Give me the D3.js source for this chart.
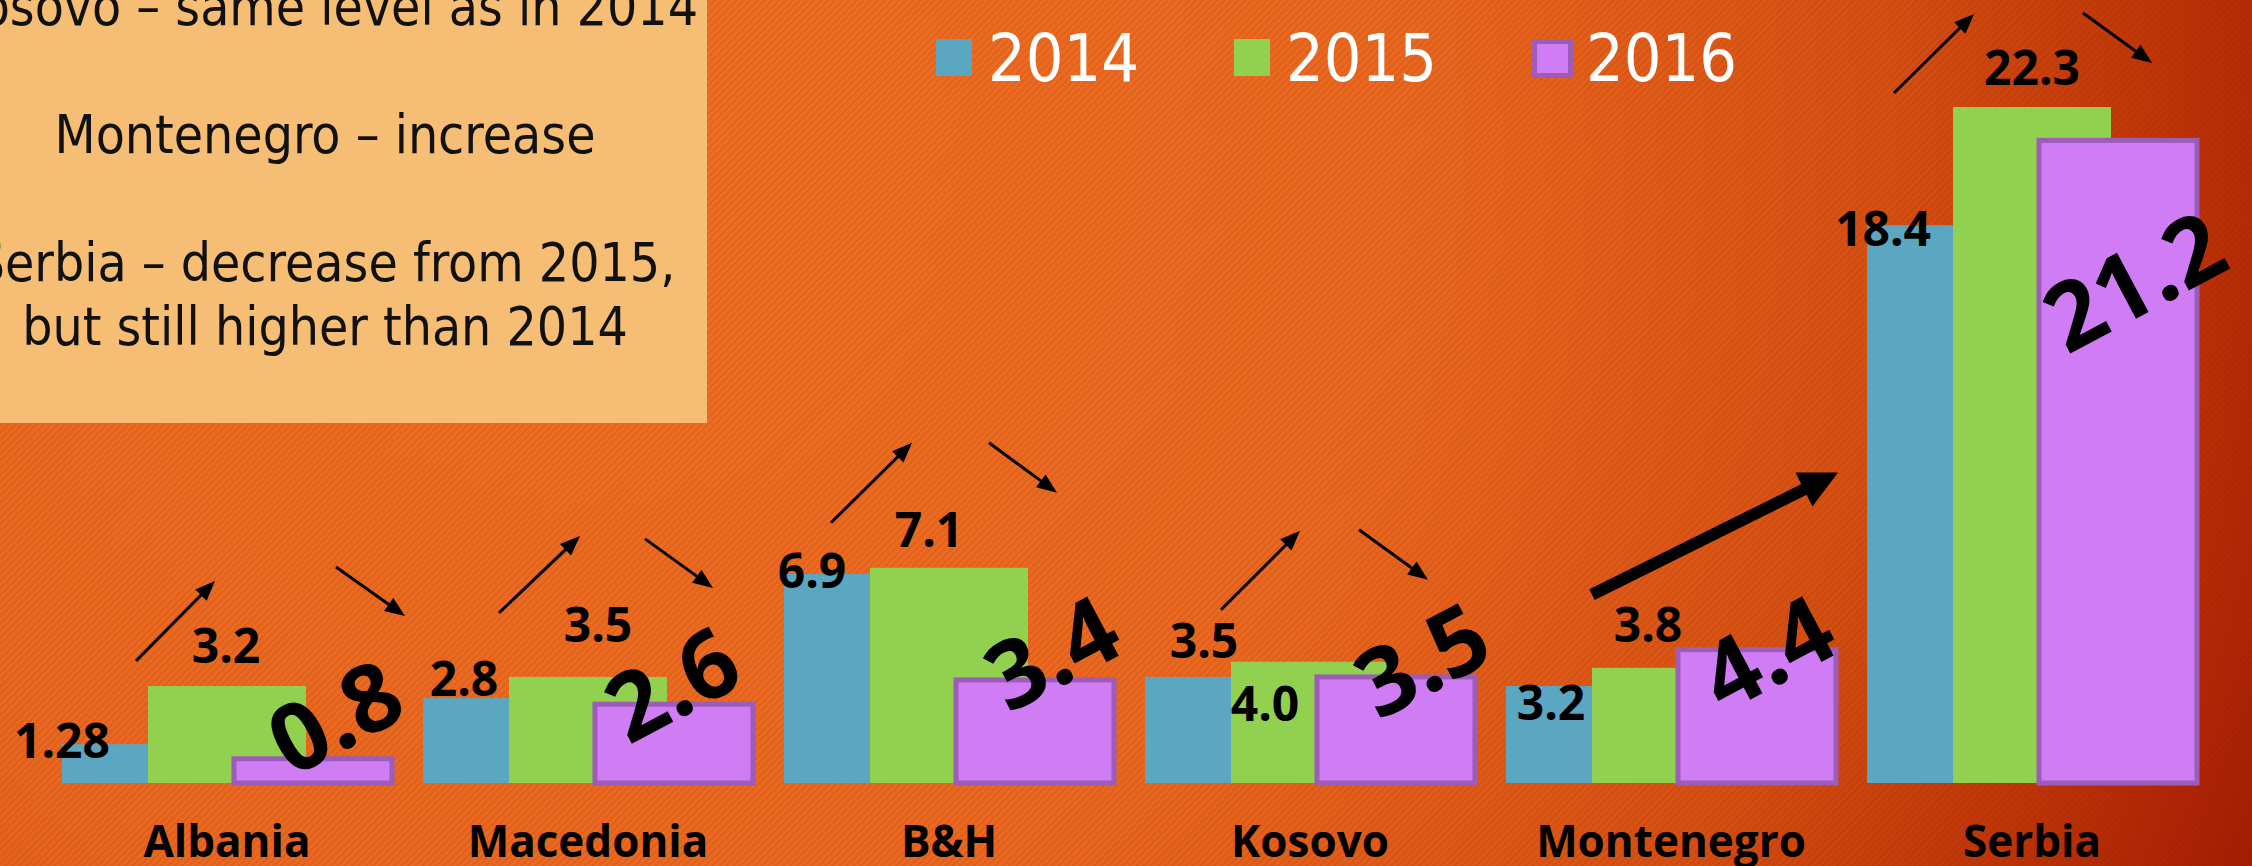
<!DOCTYPE html>
<html>
<head>
<meta charset="utf-8">
<script src="https://cdn.jsdelivr.net/npm/d3@7"></script>
<style>
  body { margin: 0; overflow: hidden; background: #e8641e; }
  svg { display: block; }
</style>
</head>
<body>
<svg id="chart" width="2252" height="866"></svg>
<script>
// données
const countries = ["Albania", "Macedonia", "B&H", "Kosovo", "Montenegro", "Serbia"];
const years = ["2014", "2015", "2016"];
const v2014 = [1.28, 2.8, 6.9, 3.5, 3.2, 18.4];
const v2015 = [3.2, 3.5, 7.1, 4.0, 3.8, 22.3];
const v2016 = [0.8, 2.6, 3.4, 3.5, 4.4, 21.2];
const noteLines = ["Kosovo – same level as in 2014", "", "Montenegro – increase", "", "Serbia – decrease from 2015,", "but still higher than 2014"];

// placement des étiquettes (décalage par rapport au haut de la barre)
const off2014 = [[-79, 14], [-38, -2], [-51, 14], [-20, -19], [-34, 34], [-63, 21]];
const off2015 = [[-1, -23], [10, -35], [-20, -21], [-45, 59], [-23, -26], [0, -22]];
const off2016 = [[22, -42], [-2, -20], [17, -27], [26, -17], [10, 3], [16, 141]];
// flèches : [pays, dx1, dy1, dx2, dy2] par rapport au début du groupe et au haut de la barre 2015
const flechesHaut = [[0, 74, -25, 153, -105], [1, 76, -64, 157, -141], [2, 47, -45, 128, -125], [3, 76, -52, 155, -131], [5, 27, -14, 107, -93]];
const flechesBas = [[0, 274, -119, 343, -70], [1, 222, -138, 290, -89], [2, 205, -125, 273, -75], [3, 214, -132, 283, -82], [5, 216, -94, 285, -44]];

const W = 2252, H = 866;
const series = [v2014, v2015, v2016];
const couleurs = ["#5BA6C0", "#92D050", "#D07CF5"];
const barW = 158;

const svg = d3.select("#chart");
const defs = svg.append("defs");

// fond dégradé
const fond = defs.append("radialGradient")
    .attr("id", "fond")
    .attr("gradientUnits", "userSpaceOnUse")
    .attr("cx", 600).attr("cy", 150).attr("r", 1850);
[[0, "#EF6F23"], [0.45, "#EA671F"], [0.7, "#D64F12"], [0.85, "#BE3407"], [1, "#A01602"]]
    .forEach(s => fond.append("stop").attr("offset", s[0]).attr("stop-color", s[1]));

const rayures = defs.append("pattern")
    .attr("id", "rayures")
    .attr("patternUnits", "userSpaceOnUse")
    .attr("width", 5).attr("height", 5)
    .attr("patternTransform", "rotate(45)");
rayures.append("line")
    .attr("x1", 1).attr("x2", 1).attr("y1", 0).attr("y2", 5)
    .attr("stroke", "rgba(110,20,0,0.13)")
    .attr("stroke-width", 1.6);

svg.append("rect").attr("width", W).attr("height", H).attr("fill", "url(#fond)");
svg.append("rect").attr("width", W).attr("height", H).attr("fill", "url(#rayures)");

// échelles
const x0 = d3.scaleBand().domain(countries).range([62, 2197]).paddingInner(0.086);
const xs = d3.scalePoint().domain(years).range([0, x0.bandwidth() - barW]);
const y = d3.scaleLinear().domain([0, 22.3]).range([783, 107]);

const fmt = v => (Math.round(v * 10) / 10 === v) ? v.toFixed(1) : String(v);

// encadré de texte
svg.append("rect")
    .attr("x", -100).attr("y", -10)
    .attr("width", 807).attr("height", 433)
    .attr("fill", "#F6BE74");

svg.append("g").selectAll("text")
    .data(noteLines)
    .join("text")
    .attr("x", 325)
    .attr("y", (d, i) => 25 + i * 64)
    .attr("text-anchor", "middle")
    .attr("font-family", "'Liberation Sans Narrow', 'DejaVu Sans Condensed', sans-serif")
    .attr("font-size", "53px")
    .attr("fill", "#111")
    .text(d => d);

// barres
years.forEach((yr, s) => {
    svg.append("g")
        .attr("class", "serie-" + yr)
        .selectAll("rect")
        .data(countries)
        .join("rect")
        .attr("x", c => x0(c) + xs(yr))
        .attr("y", (c, i) => y(series[s][i]))
        .attr("width", barW)
        .attr("height", (c, i) => y(0) - y(series[s][i]))
        .attr("fill", couleurs[s])
        .attr("stroke", s === 2 ? "#9C5CB8" : null)
        .attr("stroke-width", s === 2 ? 5 : null);
});

// étiquettes 2014 et 2015
[[v2014, off2014, "2014"], [v2015, off2015, "2015"]].forEach(([vals, offs, yr]) => {
    svg.append("g").selectAll("text")
        .data(countries)
        .join("text")
        .attr("x", (c, i) => x0(c) + xs(yr) + barW / 2 + offs[i][0])
        .attr("y", (c, i) => y(vals[i]) + offs[i][1])
        .attr("text-anchor", "middle")
        .attr("font-family", "'Open Sans', sans-serif")
        .attr("font-weight", "bold")
        .attr("font-size", "48px")
        .attr("fill", "#000")
        .text((c, i) => fmt(vals[i]));
});

// grandes étiquettes 2016, inclinées
svg.append("g").selectAll("text")
    .data(countries)
    .join("text")
    .attr("transform", (c, i) => {
        let cx = x0(c) + xs("2016") + barW / 2 + off2016[i][0];
        let cy = y(v2016[i]) + off2016[i][1];
        return `translate(${cx},${cy}) rotate(-28)`;
    })
    .attr("text-anchor", "middle")
    .attr("dy", "0.36em")
    .attr("font-family", "'Open Sans', sans-serif")
    .attr("font-weight", "bold")
    .attr("font-size", "94px")
    .attr("fill", "#000")
    .text((c, i) => fmt(v2016[i]));

// flèches
function fleche(g, x1, y1, x2, y2, ep, lg, la) {
    let dx = x2 - x1, dy = y2 - y1;
    let len = Math.sqrt(dx * dx + dy * dy);
    let ux = dx / len, uy = dy / len;
    g.append("line")
        .attr("x1", x1).attr("y1", y1)
        .attr("x2", x2 - ux * lg * 0.6).attr("y2", y2 - uy * lg * 0.6)
        .attr("stroke", "#000")
        .attr("stroke-width", ep);
    let bx = x2 - ux * lg, by = y2 - uy * lg;
    g.append("path")
        .attr("d", `M${x2},${y2}L${bx - uy * la},${by + ux * la}L${bx + uy * la},${by - ux * la}Z`)
        .attr("fill", "#000");
}

const gFleches = svg.append("g");
flechesHaut.concat(flechesBas).forEach(f => {
    let c = countries[f[0]];
    let base = x0(c), top = y(v2015[f[0]]);
    fleche(gFleches, base + f[1], top + f[2], base + f[3], top + f[4], 3, 20, 8);
});
// grosse flèche Montenegro
{
    let base = x0("Montenegro"), top = y(v2016[4]);
    fleche(gFleches, base + 86, top - 55, base + 332, top - 177, 12, 38, 19);
}

// axe des pays
const axe = svg.append("g")
    .attr("transform", `translate(0,${y(0)})`)
    .call(d3.axisBottom(x0).tickSize(0));
axe.select(".domain").remove();
axe.selectAll("text")
    .attr("y", 74)
    .attr("dy", null)
    .attr("font-family", "'Open Sans', sans-serif")
    .attr("font-weight", "bold")
    .attr("font-size", "44px")
    .attr("fill", "#000");

// légende
const xl = d3.scalePoint().domain(years).range([936, 1532]);
const leg = svg.append("g").selectAll("g")
    .data(years)
    .join("g")
    .attr("transform", d => `translate(${xl(d)},0)`);
leg.append("rect")
    .attr("x", (d, i) => i === 2 ? 2.5 : 0)
    .attr("y", (d, i) => i === 2 ? 41.5 : 39)
    .attr("width", 36)
    .attr("height", (d, i) => i === 2 ? 34 : 37)
    .attr("fill", (d, i) => couleurs[i])
    .attr("stroke", (d, i) => i === 2 ? "#9C5CB8" : null)
    .attr("stroke-width", (d, i) => i === 2 ? 5 : null);
leg.append("text")
    .attr("x", (d, i) => i === 2 ? 54 : 52)
    .attr("y", 81)
    .attr("font-family", "'Liberation Sans Narrow', 'DejaVu Sans Condensed', sans-serif")
    .attr("font-size", "66px")
    .attr("fill", "#fff")
    .text(d => d);
</script>
</body>
</html>
